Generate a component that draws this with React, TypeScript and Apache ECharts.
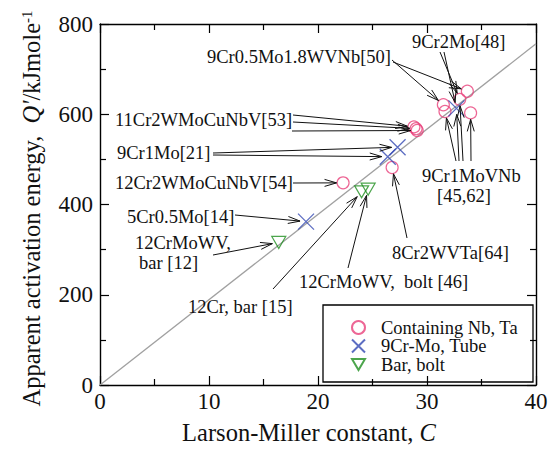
import React, { useEffect, useRef } from "react";
import * as echarts from "echarts";

// Data (Larson-Miller constant C, apparent activation energy Q')
const nbTaC = [33.7, 33.0, 31.5, 31.65, 34.0, 28.8, 29.0, 29.1, 26.8, 22.3];
const nbTaQ = [651, 633, 621, 606, 603, 572, 568, 564, 482, 448];
const tubeC = [32.7, 27.3, 26.4, 18.9];
const tubeQ = [613, 527, 506, 362];
const barC = [24.0, 24.6, 16.4];
const barQ = [428, 434, 316];
const lineC = [0, 40];
const lineQ = [0, 756];

const seriesNames = ["Containing Nb, Ta", "9Cr-Mo, Tube", "Bar, bolt"];
const xTicks = { min: 0, max: 40, interval: 10 };
const yTicks = { min: 0, max: 800, interval: 200 };

// Annotations: text lines and arrows to points [seriesKey, index]
type Target = ["c" | "x" | "b", number];
const annotations: {
  lines: { text: string; x: number; y: number }[];
  arrows: { from: [number, number]; to: Target }[];
}[] = [
  {
    lines: [{ text: "9Cr0.5Mo1.8WVNb[50]", x: 207, y: 57 }],
    arrows: [
      { from: [392, 60], to: ["c", 2] },
      { from: [393, 62], to: ["c", 0] },
    ],
  },
  {
    lines: [{ text: "9Cr2Mo[48]", x: 412, y: 42 }],
    arrows: [
      { from: [440, 52], to: ["c", 1] },
      { from: [444, 52], to: ["x", 0] },
    ],
  },
  {
    lines: [{ text: "11Cr2WMoCuNbV[53]", x: 115, y: 120 }],
    arrows: [
      { from: [293, 115], to: ["c", 5] },
      { from: [293, 122], to: ["c", 6] },
      { from: [292, 131], to: ["c", 7] },
    ],
  },
  {
    lines: [{ text: "9Cr1Mo[21]", x: 117, y: 153 }],
    arrows: [
      { from: [213, 153], to: ["x", 1] },
      { from: [213, 155], to: ["x", 2] },
    ],
  },
  {
    lines: [{ text: "12Cr2WMoCuNbV[54]", x: 115, y: 183 }],
    arrows: [{ from: [293, 183], to: ["c", 9] }],
  },
  {
    lines: [{ text: "5Cr0.5Mo[14]", x: 127, y: 217 }],
    arrows: [{ from: [235, 215], to: ["x", 3] }],
  },
  {
    lines: [
      { text: "12CrMoWV,", x: 135, y: 243 },
      { text: "bar [12]", x: 139, y: 263 },
    ],
    arrows: [{ from: [213, 255], to: ["b", 2] }],
  },
  {
    lines: [{ text: "12Cr, bar [15]", x: 188, y: 307 }],
    arrows: [{ from: [273, 289], to: ["b", 0] }],
  },
  {
    lines: [{ text: "12CrMoWV,\u00a0 bolt [46]", x: 299, y: 282 }],
    arrows: [{ from: [348, 268], to: ["b", 1] }],
  },
  {
    lines: [{ text: "8Cr2WVTa[64]", x: 392, y: 253 }],
    arrows: [{ from: [407, 238], to: ["c", 8] }],
  },
  {
    lines: [
      { text: "9Cr1MoVNb", x: 422, y: 176 },
      { text: "[45,62]", x: 437, y: 196 },
    ],
    arrows: [
      { from: [456, 161], to: ["c", 3] },
      { from: [459, 161], to: ["x", 0] },
      { from: [463, 161], to: ["c", 1] },
      { from: [471, 161], to: ["c", 4] },
    ],
  },
];

const FONT = "'Liberation Serif', 'Times New Roman', serif";
const PINK = "#e8407a";
const BLUE = "#3349b3";
const GREEN = "#1f8f1f";

export default function App() {
  const ref = useRef<HTMLDivElement>(null);
  useEffect(() => {
    const chart = echarts.init(ref.current!, null, { renderer: "svg" });
    const axisCommon = {
      type: "value",
      axisLine: { show: true, onZero: false, lineStyle: { color: "#000", width: 1.4 } },
      axisTick: { show: true, inside: true, length: 9, lineStyle: { color: "#000", width: 1.2 } },
      minorTick: { show: true, splitNumber: 2, length: 6, lineStyle: { color: "#000", width: 1.2 } },
      splitLine: { show: false },
      minorSplitLine: { show: false },
    };
    const option: any = {
      animation: false,
      backgroundColor: "#fff",
      grid: { left: 100, right: 17, top: 24, bottom: 68 },
      xAxis: [
        {
          ...axisCommon,
          position: "bottom",
          ...xTicks,
          axisLabel: { fontSize: 23, fontFamily: FONT, color: "#111", margin: 5 },
          name: "Larson-Miller constant, {i|C}",
          nameLocation: "middle",
          nameGap: 35,
          nameTextStyle: {
            fontSize: 24.5,
            fontFamily: FONT,
            color: "#111",
            padding: [0, 18, 0, 0],
            rich: { i: { fontSize: 24.5, fontFamily: FONT, fontStyle: "italic", color: "#111" } },
          },
        },
        {
          ...axisCommon,
          position: "top",
          ...xTicks,
          axisLabel: { show: false },
        },
      ],
      yAxis: [
        {
          ...axisCommon,
          position: "left",
          ...yTicks,
          axisLabel: { fontSize: 23, fontFamily: FONT, color: "#111", margin: 7 },
          name: "Apparent activation energy,  {i|Q'}/kJmole{s|-1}",
          nameLocation: "middle",
          nameGap: 56,
          nameTextStyle: {
            fontSize: 24.5,
            fontFamily: FONT,
            color: "#111",
            padding: [0, 8, 0, 0],
            rich: {
              i: { fontSize: 24.5, fontFamily: FONT, fontStyle: "italic", color: "#111" },
              s: { fontSize: 15, fontFamily: FONT, color: "#111", verticalAlign: "top", lineHeight: 25 },
            },
          },
        },
        {
          ...axisCommon,
          position: "right",
          ...yTicks,
          axisLabel: { show: false },
        },
      ],
      legend: {
        data: seriesNames,
        orient: "vertical",
        left: 351,
        top: 318,
        padding: 0,
        itemWidth: 13,
        itemHeight: 13,
        itemGap: -0.5,
        textStyle: { fontFamily: FONT, fontSize: 18.5, color: "#111", padding: [0, 0, 0, 11], lineHeight: 17 },
      },
      series: [
        {
          type: "line",
          data: lineC.map((c, i) => [c, lineQ[i]]),
          symbol: "none",
          lineStyle: { color: "#a0a0a0", width: 1.3 },
          silent: true,
          z: 1,
        },
        {
          name: seriesNames[0],
          type: "scatter",
          data: nbTaC.map((c, i) => [c, nbTaQ[i]]),
          symbol: "circle",
          symbolSize: 12,
          itemStyle: { color: "rgba(255,255,255,0)", borderColor: PINK, borderWidth: 1.2 },
          z: 3,
        },
        {
          name: seriesNames[1],
          type: "scatter",
          data: tubeC.map((c, i) => [c, tubeQ[i]]),
          symbol: "path://M0,0L10,10M10,0L0,10",
          symbolSize: 16,
          itemStyle: { color: "rgba(255,255,255,0)", borderColor: BLUE, borderWidth: 1.3 },
          z: 3,
        },
        {
          name: seriesNames[2],
          type: "scatter",
          data: barC.map((c, i) => [c, barQ[i]]),
          symbol: "path://M0,0L14,0L7,12Z",
          symbolSize: [14, 12],
          itemStyle: { color: "rgba(255,255,255,0)", borderColor: GREEN, borderWidth: 1.2 },
          z: 3,
        },
      ],
    };
    chart.setOption(option);

    const pts: Record<string, { c: number[]; q: number[]; r: number }> = {
      c: { c: nbTaC, q: nbTaQ, r: 6.5 },
      x: { c: tubeC, q: tubeQ, r: 6 },
      b: { c: barC, q: barQ, r: 6.5 },
    };
    const graphics: any[] = [
      {
        type: "rect",
        shape: { x: 323, y: 305, width: 210, height: 77 },
        style: { fill: "none", stroke: "#000", lineWidth: 1.3 },
        z: 1,
      },
    ];
    annotations.forEach((a) => {
      a.lines.forEach((l) =>
        graphics.push({
          type: "text",
          x: l.x,
          y: l.y,
          style: {
            text: l.text,
            fontSize: 18.5,
            fontFamily: FONT,
            fill: "#111",
            align: "left",
            verticalAlign: "middle",
          },
          z: 10,
        })
      );
      a.arrows.forEach((ar) => {
        const set = pts[ar.to[0]];
        const idx = ar.to[1];
        const p = chart.convertToPixel({ xAxisIndex: 0, yAxisIndex: 0 }, [set.c[idx], set.q[idx]]) as number[];
        const [fx, fy] = ar.from;
        const dx = p[0] - fx;
        const dy = p[1] - fy;
        const len = Math.sqrt(dx * dx + dy * dy);
        const ux = dx / len;
        const uy = dy / len;
        const tx = p[0] - ux * set.r;
        const ty = p[1] - uy * set.r;
        const hl = 12;
        const hw = 3.5;
        const bx = tx - ux * hl;
        const by = ty - uy * hl;
        graphics.push({
          type: "line",
          shape: { x1: fx, y1: fy, x2: tx, y2: ty },
          style: { stroke: "#111", lineWidth: 1 },
          z: 10,
        });
        graphics.push({
          type: "polyline",
          shape: {
            points: [
              [bx - uy * hw, by + ux * hw],
              [tx, ty],
              [bx + uy * hw, by - ux * hw],
            ],
          },
          style: { stroke: "#111", lineWidth: 1, fill: "none" },
          z: 10,
        });
      });
    });
    chart.setOption({ graphic: graphics });
    return () => chart.dispose();
  }, []);
  return (
    <div
      ref={ref}
      style={{ position: "fixed", left: 0, top: 0, width: 553, height: 453, background: "#fff" }}
    />
  );
}
